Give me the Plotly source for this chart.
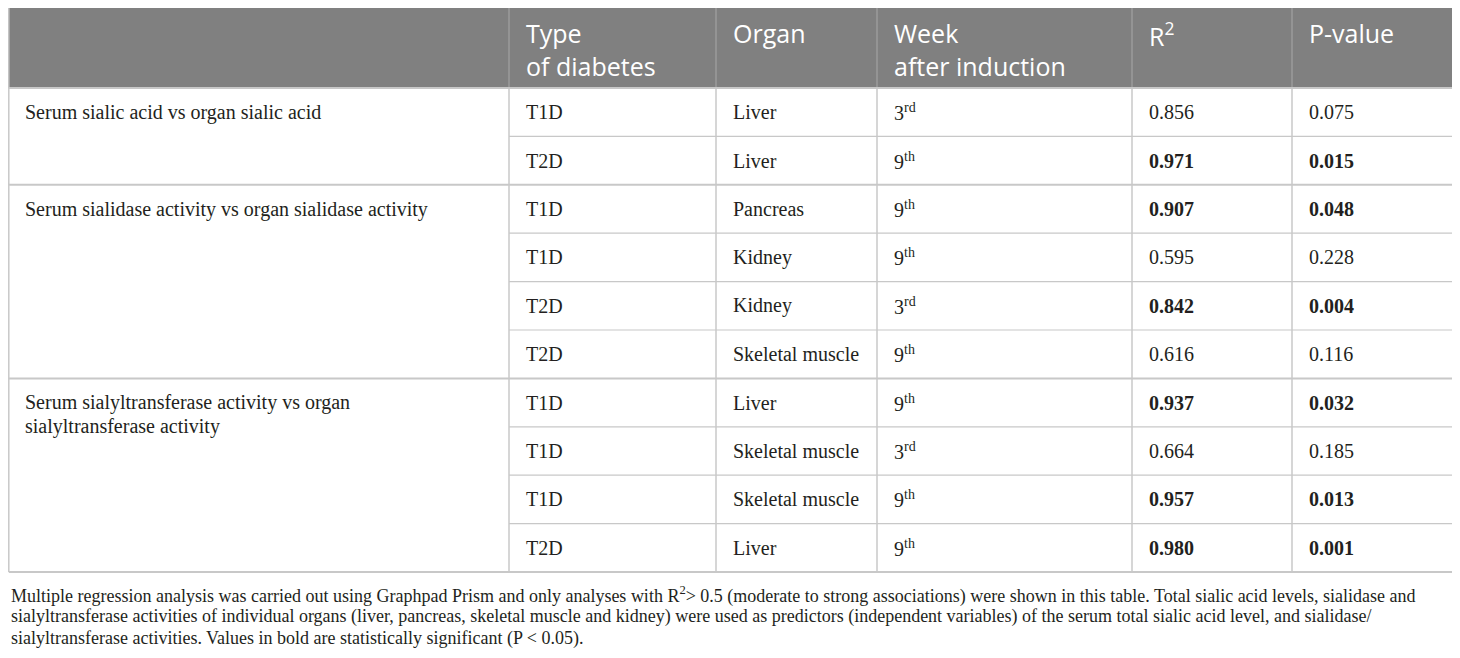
import plotly.graph_objects as go

# ---- table data ----
headers = ["", "Type<br>of diabetes", "Organ", "Week<br>after induction", "R<sup>2</sup>", "P-value"]

groups = [
    "Serum sialic acid vs organ sialic acid",
    "Serum sialidase activity vs organ sialidase activity",
    "Serum sialyltransferase activity vs organ<br>sialyltransferase activity",
]
group_sizes = [2, 4, 4]

diabetes = ["T1D", "T2D", "T1D", "T1D", "T2D", "T2D", "T1D", "T1D", "T1D", "T2D"]
organs = ["Liver", "Liver", "Pancreas", "Kidney", "Kidney", "Skeletal muscle",
          "Liver", "Skeletal muscle", "Skeletal muscle", "Liver"]
weeks = ["3<sup>rd</sup>", "9<sup>th</sup>", "9<sup>th</sup>", "9<sup>th</sup>", "3<sup>rd</sup>",
         "9<sup>th</sup>", "9<sup>th</sup>", "3<sup>rd</sup>", "9<sup>th</sup>", "9<sup>th</sup>"]
r2 = ["0.856", "0.971", "0.907", "0.595", "0.842", "0.616", "0.937", "0.664", "0.957", "0.980"]
pvals = ["0.075", "0.015", "0.048", "0.228", "0.004", "0.116", "0.032", "0.185", "0.013", "0.001"]
significant = [False, True, True, False, True, False, True, False, True, True]

footnote = [
    "Multiple regression analysis was carried out using Graphpad Prism and only analyses with R<sup>2</sup>> 0.5 "
    "(moderate to strong associations) were shown in this table. Total sialic acid levels, sialidase and",
    "sialyltransferase activities of individual organs (liver, pancreas, skeletal muscle and kidney) were used as "
    "predictors (independent variables) of the serum total sialic acid level, and sialidase/",
    "sialyltransferase activities. Values in bold are statistically significant (P < 0.05).",
]

# ---- layout constants (page pixels; the plot div sits 8px in from the page corner) ----
W, H = 1460, 658
off = 8
col_edges = [8.8, 509, 716, 877, 1132, 1292, 1453]
top = 8
header_h = 80
row_h = 48.4
pad = 15
grid = "#c8c8c8"
head_fill = "#808080"
ink = "#231f20"
serif = "Liberation Serif"
sans = "Open Sans"

fig = go.Figure()
shapes = []
ann = []

n_rows = len(diabetes)
body_top = top + header_h
bottom = body_top + n_rows * row_h

# header band
shapes.append(dict(type="rect", x0=col_edges[0] - 1, x1=col_edges[-1], y0=top, y1=body_top,
                   fillcolor=head_fill, line=dict(width=0), layer="below"))
for j, h in enumerate(headers):
    if h:
        ann.append(dict(x=col_edges[j] + pad, y=top + 6, text=h, xanchor="left",
                        yanchor="top", align="left", showarrow=False,
                        font=dict(family=sans, size=25, color="white")))
    if j > 0:
        shapes.append(dict(type="line", x0=col_edges[j], x1=col_edges[j], y0=top, y1=body_top,
                           line=dict(color="#a8a8a8", width=1)))

# body vertical lines
for j, x in enumerate(col_edges):
    outer = j in (0, len(col_edges) - 1)
    shapes.append(dict(type="line", x0=x, x1=x, y0=top if outer else body_top,
                       y1=bottom, line=dict(color=grid, width=1.5)))

# group labels (first column, spanning several rows)
start = 0
group_starts = []
for g, n in zip(groups, group_sizes):
    group_starts.append(start)
    yc = body_top + start * row_h + row_h / 2
    for k, part in enumerate(g.split("<br>")):
        ann.append(dict(x=col_edges[0] + pad - 1, y=yc + k * 24, text=part, xanchor="left", yanchor="middle",
                        align="left", showarrow=False, font=dict(family=serif, size=20, color=ink)))
    start += n

# data rows
for i in range(n_rows):
    y0 = body_top + i * row_h
    yc = y0 + row_h / 2
    is_group_edge = i in group_starts
    shapes.append(dict(type="line", x0=col_edges[0] if is_group_edge else col_edges[1], x1=col_edges[-1],
                       y0=y0, y1=y0, line=dict(color=grid, width=2 if is_group_edge else 1.2)))
    vals = [diabetes[i], organs[i], weeks[i],
            "<b>%s</b>" % r2[i] if significant[i] else r2[i],
            "<b>%s</b>" % pvals[i] if significant[i] else pvals[i]]
    for j, v in enumerate(vals, start=1):
        ann.append(dict(x=col_edges[j] + pad, y=yc, text=v, xanchor="left", yanchor="middle",
                        align="left", showarrow=False, font=dict(family=serif, size=20, color=ink)))

shapes.append(dict(type="line", x0=col_edges[0], x1=col_edges[-1], y0=bottom, y1=bottom,
                   line=dict(color=grid, width=2)))

# footnote
for k, line in enumerate(footnote):
    ann.append(dict(x=col_edges[0], y=bottom + 23 + k * 21.5, text=line, xanchor="left", yanchor="middle",
                    align="left", showarrow=False, font=dict(family=serif, size=18, color=ink)))

fig.update_layout(
    width=W, height=H,
    margin=dict(l=0, r=0, t=0, b=0),
    paper_bgcolor="white", plot_bgcolor="white",
    xaxis=dict(range=[off, W + off], visible=False, fixedrange=True),
    yaxis=dict(range=[H + off, off], visible=False, fixedrange=True),
    shapes=shapes, annotations=ann, showlegend=False,
)

fig.write_html("out.html")
